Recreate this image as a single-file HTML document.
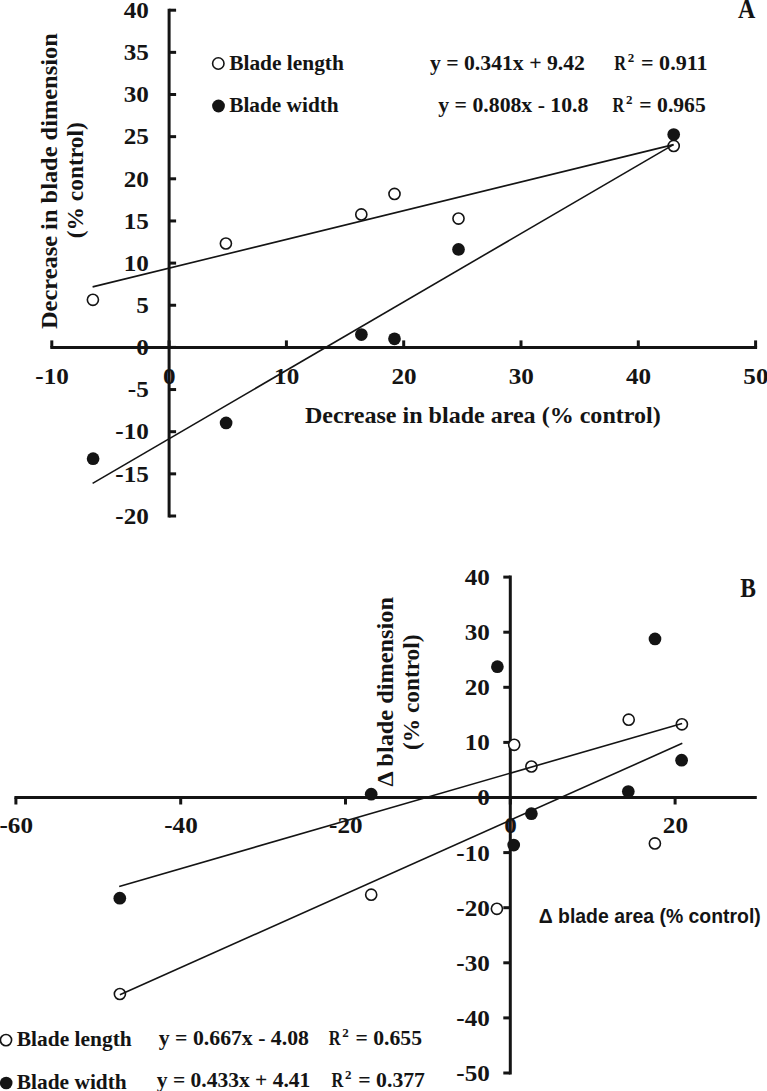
<!DOCTYPE html>
<html><head><meta charset="utf-8"><style>
html,body{margin:0;padding:0;background:#fff;}
body{width:767px;height:1091px;overflow:hidden;}
svg{display:block;}
text{font-weight:bold;fill:#141414;}
</style></head><body>
<svg width="767" height="1091" viewBox="0 0 767 1091">
<line x1="169.10" y1="8.70" x2="169.10" y2="517.50" stroke="#141414" stroke-width="3.0"/>
<line x1="169.10" y1="10.20" x2="176.10" y2="10.20" stroke="#141414" stroke-width="3.0"/>
<line x1="169.10" y1="52.35" x2="176.10" y2="52.35" stroke="#141414" stroke-width="3.0"/>
<line x1="169.10" y1="94.50" x2="176.10" y2="94.50" stroke="#141414" stroke-width="3.0"/>
<line x1="169.10" y1="136.65" x2="176.10" y2="136.65" stroke="#141414" stroke-width="3.0"/>
<line x1="169.10" y1="178.80" x2="176.10" y2="178.80" stroke="#141414" stroke-width="3.0"/>
<line x1="169.10" y1="220.95" x2="176.10" y2="220.95" stroke="#141414" stroke-width="3.0"/>
<line x1="169.10" y1="263.10" x2="176.10" y2="263.10" stroke="#141414" stroke-width="3.0"/>
<line x1="169.10" y1="305.25" x2="176.10" y2="305.25" stroke="#141414" stroke-width="3.0"/>
<line x1="169.10" y1="347.40" x2="176.10" y2="347.40" stroke="#141414" stroke-width="3.0"/>
<line x1="169.10" y1="389.55" x2="176.10" y2="389.55" stroke="#141414" stroke-width="3.0"/>
<line x1="169.10" y1="431.70" x2="176.10" y2="431.70" stroke="#141414" stroke-width="3.0"/>
<line x1="169.10" y1="473.85" x2="176.10" y2="473.85" stroke="#141414" stroke-width="3.0"/>
<line x1="169.10" y1="516.00" x2="176.10" y2="516.00" stroke="#141414" stroke-width="3.0"/>
<line x1="50.30" y1="347.40" x2="757.10" y2="347.40" stroke="#141414" stroke-width="3.0"/>
<line x1="51.80" y1="347.40" x2="51.80" y2="340.40" stroke="#141414" stroke-width="3.0"/>
<line x1="169.10" y1="347.40" x2="169.10" y2="340.40" stroke="#141414" stroke-width="3.0"/>
<line x1="286.40" y1="347.40" x2="286.40" y2="340.40" stroke="#141414" stroke-width="3.0"/>
<line x1="403.70" y1="347.40" x2="403.70" y2="340.40" stroke="#141414" stroke-width="3.0"/>
<line x1="521.00" y1="347.40" x2="521.00" y2="340.40" stroke="#141414" stroke-width="3.0"/>
<line x1="638.30" y1="347.40" x2="638.30" y2="340.40" stroke="#141414" stroke-width="3.0"/>
<line x1="755.60" y1="347.40" x2="755.60" y2="340.40" stroke="#141414" stroke-width="3.0"/>
<circle cx="92.90" cy="299.80" r="5.55" fill="#fff" stroke="#141414" stroke-width="1.6"/>
<circle cx="225.90" cy="243.50" r="5.55" fill="#fff" stroke="#141414" stroke-width="1.6"/>
<circle cx="361.30" cy="214.40" r="5.55" fill="#fff" stroke="#141414" stroke-width="1.6"/>
<circle cx="394.50" cy="193.90" r="5.55" fill="#fff" stroke="#141414" stroke-width="1.6"/>
<circle cx="458.50" cy="218.60" r="5.55" fill="#fff" stroke="#141414" stroke-width="1.6"/>
<circle cx="673.70" cy="145.90" r="5.55" fill="#fff" stroke="#141414" stroke-width="1.6"/>
<circle cx="93.10" cy="458.70" r="6.35" fill="#141414"/>
<circle cx="226.10" cy="422.90" r="6.35" fill="#141414"/>
<circle cx="361.40" cy="334.60" r="6.35" fill="#141414"/>
<circle cx="394.50" cy="338.80" r="6.35" fill="#141414"/>
<circle cx="458.50" cy="249.40" r="6.35" fill="#141414"/>
<circle cx="673.70" cy="134.50" r="6.35" fill="#141414"/>
<line x1="92.60" y1="286.90" x2="673.50" y2="144.60" stroke="#141414" stroke-width="1.6"/>
<line x1="92.60" y1="483.40" x2="673.50" y2="144.60" stroke="#141414" stroke-width="1.6"/>
<text transform="translate(123.64,17.90) scale(1.0800,1)" font-size="23.3" font-family='"Liberation Serif", serif'>40</text>
<text transform="translate(123.64,60.05) scale(1.0800,1)" font-size="23.3" font-family='"Liberation Serif", serif'>35</text>
<text transform="translate(123.64,102.20) scale(1.0800,1)" font-size="23.3" font-family='"Liberation Serif", serif'>30</text>
<text transform="translate(123.64,144.35) scale(1.0800,1)" font-size="23.3" font-family='"Liberation Serif", serif'>25</text>
<text transform="translate(123.64,186.50) scale(1.0800,1)" font-size="23.3" font-family='"Liberation Serif", serif'>20</text>
<text transform="translate(123.64,228.65) scale(1.0800,1)" font-size="23.3" font-family='"Liberation Serif", serif'>15</text>
<text transform="translate(123.64,270.80) scale(1.0800,1)" font-size="23.3" font-family='"Liberation Serif", serif'>10</text>
<text transform="translate(136.22,312.95) scale(1.0800,1)" font-size="23.3" font-family='"Liberation Serif", serif'>5</text>
<text transform="translate(136.22,355.10) scale(1.0800,1)" font-size="23.3" font-family='"Liberation Serif", serif'>0</text>
<text transform="translate(127.85,397.25) scale(1.0800,1)" font-size="23.3" font-family='"Liberation Serif", serif'>-5</text>
<text transform="translate(115.27,439.40) scale(1.0800,1)" font-size="23.3" font-family='"Liberation Serif", serif'>-10</text>
<text transform="translate(115.27,481.55) scale(1.0800,1)" font-size="23.3" font-family='"Liberation Serif", serif'>-15</text>
<text transform="translate(115.27,523.70) scale(1.0800,1)" font-size="23.3" font-family='"Liberation Serif", serif'>-20</text>
<text transform="translate(35.33,383.50) scale(1.0800,1)" font-size="23.3" font-family='"Liberation Serif", serif'>-10</text>
<text transform="translate(163.11,383.50) scale(1.0800,1)" font-size="23.3" font-family='"Liberation Serif", serif'>0</text>
<text transform="translate(274.12,383.50) scale(1.0800,1)" font-size="23.3" font-family='"Liberation Serif", serif'>10</text>
<text transform="translate(391.42,383.50) scale(1.0800,1)" font-size="23.3" font-family='"Liberation Serif", serif'>20</text>
<text transform="translate(508.72,383.50) scale(1.0800,1)" font-size="23.3" font-family='"Liberation Serif", serif'>30</text>
<text transform="translate(626.02,383.50) scale(1.0800,1)" font-size="23.3" font-family='"Liberation Serif", serif'>40</text>
<text transform="translate(743.32,383.50) scale(1.0800,1)" font-size="23.3" font-family='"Liberation Serif", serif'>50</text>
<circle cx="218.30" cy="63.50" r="5.7" fill="#fff" stroke="#141414" stroke-width="1.6"/>
<circle cx="218.50" cy="106.00" r="6.4" fill="#141414"/>
<text transform="translate(229.20,70.00) scale(1.0641,1)" font-size="20.1" font-family='"Liberation Serif", serif'>Blade length</text>
<text transform="translate(229.20,111.90) scale(1.0599,1)" font-size="20.1" font-family='"Liberation Serif", serif'>Blade width</text>
<text transform="translate(429.90,70.10) scale(1.0701,1)" font-size="20.3" font-family='"Liberation Serif", serif'>y = 0.341x + 9.42</text>
<text transform="translate(438.30,111.90) scale(1.0719,1)" font-size="20.3" font-family='"Liberation Serif", serif'>y = 0.808x - 10.8</text>
<text transform="translate(614.20,70.40) scale(0.8070,1)" font-size="20.3" font-family='"Liberation Serif", serif'>R</text>
<text transform="translate(627.70,62.40) scale(1.0156,1)" font-size="12.8" font-family='"Liberation Serif", serif'>2</text>
<text transform="translate(641.00,70.40) scale(1.0882,1)" font-size="20.3" font-family='"Liberation Serif", serif'>= 0.911</text>
<text transform="translate(612.50,111.60) scale(0.8070,1)" font-size="20.3" font-family='"Liberation Serif", serif'>R</text>
<text transform="translate(626.00,103.60) scale(1.0156,1)" font-size="12.8" font-family='"Liberation Serif", serif'>2</text>
<text transform="translate(639.30,111.60) scale(1.0671,1)" font-size="20.3" font-family='"Liberation Serif", serif'>= 0.965</text>
<text transform="translate(738.10,18.10) scale(0.8676,1)" font-size="27.6" font-family='"Liberation Serif", serif'>A</text>
<text transform="translate(304.90,423.40) scale(1.0457,1)" font-size="23.0" font-family='"Liberation Serif", serif'>Decrease in blade area (% control)</text>
<text transform="translate(57.00,329.00) rotate(-90) scale(1.0615,1)" font-size="23.0" font-family='"Liberation Serif", serif'>Decrease in blade dimension</text>
<text transform="translate(83.00,238.20) rotate(-90) scale(1.0184,1)" font-size="23.0" font-family='"Liberation Serif", serif'>(% control)</text>
<line x1="510.30" y1="575.60" x2="510.30" y2="1074.50" stroke="#141414" stroke-width="3.0"/>
<line x1="510.30" y1="577.10" x2="503.30" y2="577.10" stroke="#141414" stroke-width="3.0"/>
<line x1="510.30" y1="632.20" x2="503.30" y2="632.20" stroke="#141414" stroke-width="3.0"/>
<line x1="510.30" y1="687.30" x2="503.30" y2="687.30" stroke="#141414" stroke-width="3.0"/>
<line x1="510.30" y1="742.40" x2="503.30" y2="742.40" stroke="#141414" stroke-width="3.0"/>
<line x1="510.30" y1="797.50" x2="503.30" y2="797.50" stroke="#141414" stroke-width="3.0"/>
<line x1="510.30" y1="852.60" x2="503.30" y2="852.60" stroke="#141414" stroke-width="3.0"/>
<line x1="510.30" y1="907.70" x2="503.30" y2="907.70" stroke="#141414" stroke-width="3.0"/>
<line x1="510.30" y1="962.80" x2="503.30" y2="962.80" stroke="#141414" stroke-width="3.0"/>
<line x1="510.30" y1="1017.90" x2="503.30" y2="1017.90" stroke="#141414" stroke-width="3.0"/>
<line x1="510.30" y1="1073.00" x2="503.30" y2="1073.00" stroke="#141414" stroke-width="3.0"/>
<line x1="14.40" y1="797.50" x2="756.80" y2="797.50" stroke="#141414" stroke-width="3.0"/>
<line x1="15.90" y1="797.50" x2="15.90" y2="804.50" stroke="#141414" stroke-width="3.0"/>
<line x1="180.70" y1="797.50" x2="180.70" y2="804.50" stroke="#141414" stroke-width="3.0"/>
<line x1="345.50" y1="797.50" x2="345.50" y2="804.50" stroke="#141414" stroke-width="3.0"/>
<line x1="510.30" y1="797.50" x2="510.30" y2="804.50" stroke="#141414" stroke-width="3.0"/>
<line x1="675.10" y1="797.50" x2="675.10" y2="804.50" stroke="#141414" stroke-width="3.0"/>
<circle cx="119.90" cy="994.00" r="5.55" fill="#fff" stroke="#141414" stroke-width="1.6"/>
<circle cx="371.20" cy="894.70" r="5.55" fill="#fff" stroke="#141414" stroke-width="1.6"/>
<circle cx="496.90" cy="908.80" r="5.55" fill="#fff" stroke="#141414" stroke-width="1.6"/>
<circle cx="514.20" cy="744.80" r="5.55" fill="#fff" stroke="#141414" stroke-width="1.6"/>
<circle cx="531.40" cy="766.50" r="5.55" fill="#fff" stroke="#141414" stroke-width="1.6"/>
<circle cx="628.70" cy="719.70" r="5.55" fill="#fff" stroke="#141414" stroke-width="1.6"/>
<circle cx="681.90" cy="724.30" r="5.55" fill="#fff" stroke="#141414" stroke-width="1.6"/>
<circle cx="654.90" cy="843.40" r="5.55" fill="#fff" stroke="#141414" stroke-width="1.6"/>
<circle cx="119.80" cy="898.20" r="6.35" fill="#141414"/>
<circle cx="371.20" cy="794.20" r="6.35" fill="#141414"/>
<circle cx="497.40" cy="666.70" r="6.35" fill="#141414"/>
<circle cx="513.70" cy="845.10" r="6.35" fill="#141414"/>
<circle cx="531.40" cy="813.70" r="6.35" fill="#141414"/>
<circle cx="628.30" cy="791.60" r="6.35" fill="#141414"/>
<circle cx="655.00" cy="638.90" r="6.35" fill="#141414"/>
<circle cx="681.60" cy="760.20" r="6.35" fill="#141414"/>
<line x1="119.20" y1="886.50" x2="682.10" y2="723.40" stroke="#141414" stroke-width="1.6"/>
<line x1="119.90" y1="994.80" x2="682.30" y2="743.30" stroke="#141414" stroke-width="1.6"/>
<text transform="translate(464.74,585.00) scale(1.0800,1)" font-size="23.3" font-family='"Liberation Serif", serif'>40</text>
<text transform="translate(464.74,640.10) scale(1.0800,1)" font-size="23.3" font-family='"Liberation Serif", serif'>30</text>
<text transform="translate(464.74,695.20) scale(1.0800,1)" font-size="23.3" font-family='"Liberation Serif", serif'>20</text>
<text transform="translate(464.74,750.30) scale(1.0800,1)" font-size="23.3" font-family='"Liberation Serif", serif'>10</text>
<text transform="translate(477.32,805.40) scale(1.0800,1)" font-size="23.3" font-family='"Liberation Serif", serif'>0</text>
<text transform="translate(456.37,860.50) scale(1.0800,1)" font-size="23.3" font-family='"Liberation Serif", serif'>-10</text>
<text transform="translate(456.37,915.60) scale(1.0800,1)" font-size="23.3" font-family='"Liberation Serif", serif'>-20</text>
<text transform="translate(456.37,970.70) scale(1.0800,1)" font-size="23.3" font-family='"Liberation Serif", serif'>-30</text>
<text transform="translate(456.37,1025.80) scale(1.0800,1)" font-size="23.3" font-family='"Liberation Serif", serif'>-40</text>
<text transform="translate(456.37,1080.90) scale(1.0800,1)" font-size="23.3" font-family='"Liberation Serif", serif'>-50</text>
<text transform="translate(-0.57,833.40) scale(1.0800,1)" font-size="23.3" font-family='"Liberation Serif", serif'>-60</text>
<text transform="translate(164.23,833.40) scale(1.0800,1)" font-size="23.3" font-family='"Liberation Serif", serif'>-40</text>
<text transform="translate(329.03,833.40) scale(1.0800,1)" font-size="23.3" font-family='"Liberation Serif", serif'>-20</text>
<text transform="translate(504.31,833.40) scale(1.0800,1)" font-size="23.3" font-family='"Liberation Serif", serif'>0</text>
<text transform="translate(662.82,833.40) scale(1.0800,1)" font-size="23.3" font-family='"Liberation Serif", serif'>20</text>
<circle cx="6.00" cy="1040.10" r="5.6" fill="#fff" stroke="#141414" stroke-width="1.6"/>
<circle cx="6.20" cy="1083.00" r="6.3" fill="#141414"/>
<text transform="translate(16.80,1046.20) scale(1.0669,1)" font-size="20.1" font-family='"Liberation Serif", serif'>Blade length</text>
<text transform="translate(16.80,1089.30) scale(1.0647,1)" font-size="20.1" font-family='"Liberation Serif", serif'>Blade width</text>
<text transform="translate(158.80,1045.00) scale(1.0719,1)" font-size="20.3" font-family='"Liberation Serif", serif'>y = 0.667x - 4.08</text>
<text transform="translate(156.80,1087.00) scale(1.0604,1)" font-size="20.3" font-family='"Liberation Serif", serif'>y = 0.433x + 4.41</text>
<text transform="translate(328.70,1045.00) scale(0.8070,1)" font-size="20.3" font-family='"Liberation Serif", serif'>R</text>
<text transform="translate(342.20,1037.00) scale(1.0156,1)" font-size="12.8" font-family='"Liberation Serif", serif'>2</text>
<text transform="translate(355.50,1045.00) scale(1.0671,1)" font-size="20.3" font-family='"Liberation Serif", serif'>= 0.655</text>
<text transform="translate(331.50,1086.80) scale(0.8070,1)" font-size="20.3" font-family='"Liberation Serif", serif'>R</text>
<text transform="translate(345.00,1078.80) scale(1.0156,1)" font-size="12.8" font-family='"Liberation Serif", serif'>2</text>
<text transform="translate(358.30,1086.80) scale(1.0703,1)" font-size="20.3" font-family='"Liberation Serif", serif'>= 0.377</text>
<text transform="translate(740.30,596.90) scale(0.8522,1)" font-size="27.6" font-family='"Liberation Serif", serif'>B</text>
<text transform="translate(538.70,922.80) scale(0.9620,1)" font-size="20.2" font-family='"Liberation Sans", sans-serif'>Δ blade area (% control)</text>
<text transform="translate(393.00,786.60) rotate(-90) scale(1.0575,1)" font-size="23.0" font-family='"Liberation Serif", serif'>Δ blade dimension</text>
<text transform="translate(419.00,750.00) rotate(-90) scale(1.0140,1)" font-size="23.0" font-family='"Liberation Serif", serif'>(% control)</text>
</svg>
</body></html>
